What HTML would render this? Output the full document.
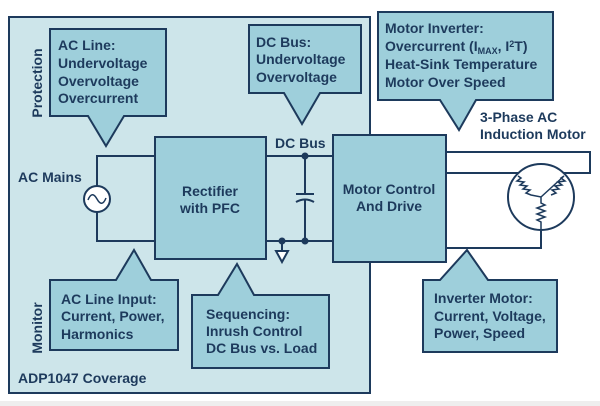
<!DOCTYPE html>
<html><head><meta charset="utf-8"><style>
html,body{margin:0;padding:0;background:#fff;}
svg{display:block;}
text{font-family:"Liberation Sans",Arial,sans-serif;font-weight:bold;fill:#1d3a5c;font-size:14px;}
</style></head><body>
<svg width="600" height="406" viewBox="0 0 600 406" xmlns="http://www.w3.org/2000/svg">
<rect x="0" y="0" width="600" height="406" fill="#fff"/>
<rect x="0" y="401" width="600" height="5" fill="#eeeeee"/>
<g stroke="#1d3a5c" stroke-width="2" stroke-linejoin="miter">
<rect x="9" y="17" width="361" height="376" fill="#cde5ea"/>
<path d="M50,29 H166 V116 H124 L106,146 L88,116 H50 Z" fill="#9ecfdb"/>
<path d="M249,25 H361 V93 H320 L302,124 L284,93 H249 Z" fill="#9ecfdb"/>
<path d="M378,12 H553 V100 H476 L459,130 L440,100 H378 Z" fill="#9ecfdb"/>
<path d="M50,280 H116 L134,250 L151,280 H178 V350 H50 Z" fill="#9ecfdb"/>
<path d="M192,295 H218 L237,264 L254,295 H329 V368 H192 Z" fill="#9ecfdb"/>
<path d="M423,280 H440 L467,250 L488,280 H557 V352 H423 Z" fill="#9ecfdb"/>
<path d="M155,156 H97 V186 M97,212 V241 H155" fill="none"/>
<path d="M266,156 H333 M266,241 H333" fill="none"/>
<path d="M305,156 V194 M305,200 V241" fill="none"/>
<path d="M296,194 H314" fill="none"/>
<path d="M296,202 Q305,197 314,202" fill="none"/>
<path d="M282,241 V251" fill="none"/>
<path d="M276,251 H288 L282,262 Z" fill="#fff"/>
<path d="M446,152 H590 V173 H446" fill="none"/>
<path d="M446,248 H541 V231" fill="none"/>
<circle cx="97" cy="199" r="13" fill="#fff"/>
<path d="M88,200 Q92,190 97,199 Q102,208 106,198" fill="none" stroke-width="1.5"/>
<rect x="155" y="137" width="111" height="122" fill="#9ecfdb"/>
<rect x="333" y="135" width="113" height="127" fill="#9ecfdb"/>
<circle cx="541" cy="197" r="33" fill="#fff"/>
<path d="M518,176 l3,2 l-4,3 l7,1 l-4,3 l7,1 l-4,3 l7,1 l-4,3 l5,2 L541,197 L564,176 l-3,2 l4,3 l-7,1 l4,3 l-7,1 l4,3 l-7,1 l4,3 l-5,2 M541,197 V203 l4,2 l-8,3 l8,3 l-8,3 l8,3 l-8,3 l4,2 V231" fill="none" stroke-width="1.5"/>
</g>
<g fill="#1d3a5c">
<circle cx="305" cy="156" r="3.5"/><circle cx="305" cy="241" r="3.5"/><circle cx="282" cy="241" r="3.5"/>
</g>
<text x="58" y="50">AC Line:</text>
<text x="58" y="68">Undervoltage</text>
<text x="58" y="86">Overvoltage</text>
<text x="58" y="103">Overcurrent</text>
<text x="256" y="47">DC Bus:</text>
<text x="256" y="64">Undervoltage</text>
<text x="256" y="82">Overvoltage</text>
<text x="385" y="33">Motor Inverter:</text>
<text x="385" y="51">Overcurrent (I<tspan font-size="9" dy="3">MAX</tspan><tspan dy="-3">, I</tspan><tspan font-size="9" dy="-4">2</tspan><tspan dy="4">T)</tspan></text>
<text x="385" y="69">Heat-Sink Temperature</text>
<text x="385" y="87">Motor Over Speed</text>
<text x="480" y="122">3-Phase AC</text>
<text x="480" y="139">Induction Motor</text>
<text x="275" y="148">DC Bus</text>
<text x="18" y="182">AC Mains</text>
<text x="210" y="196" text-anchor="middle">Rectifier</text>
<text x="210" y="213" text-anchor="middle">with PFC</text>
<text x="389" y="194" text-anchor="middle">Motor Control</text>
<text x="389" y="211" text-anchor="middle">And Drive</text>
<text x="61" y="304">AC Line Input:</text>
<text x="61" y="321">Current, Power,</text>
<text x="61" y="339">Harmonics</text>
<text x="206" y="319">Sequencing:</text>
<text x="206" y="336">Inrush Control</text>
<text x="206" y="353">DC Bus vs. Load</text>
<text x="434" y="303">Inverter Motor:</text>
<text x="434" y="321">Current, Voltage,</text>
<text x="434" y="338">Power, Speed</text>
<text x="18" y="383">ADP1047 Coverage</text>
<text transform="translate(42,83) rotate(-90)" text-anchor="middle">Protection</text>
<text transform="translate(42,328) rotate(-90)" text-anchor="middle">Monitor</text>
</svg>
</body></html>
